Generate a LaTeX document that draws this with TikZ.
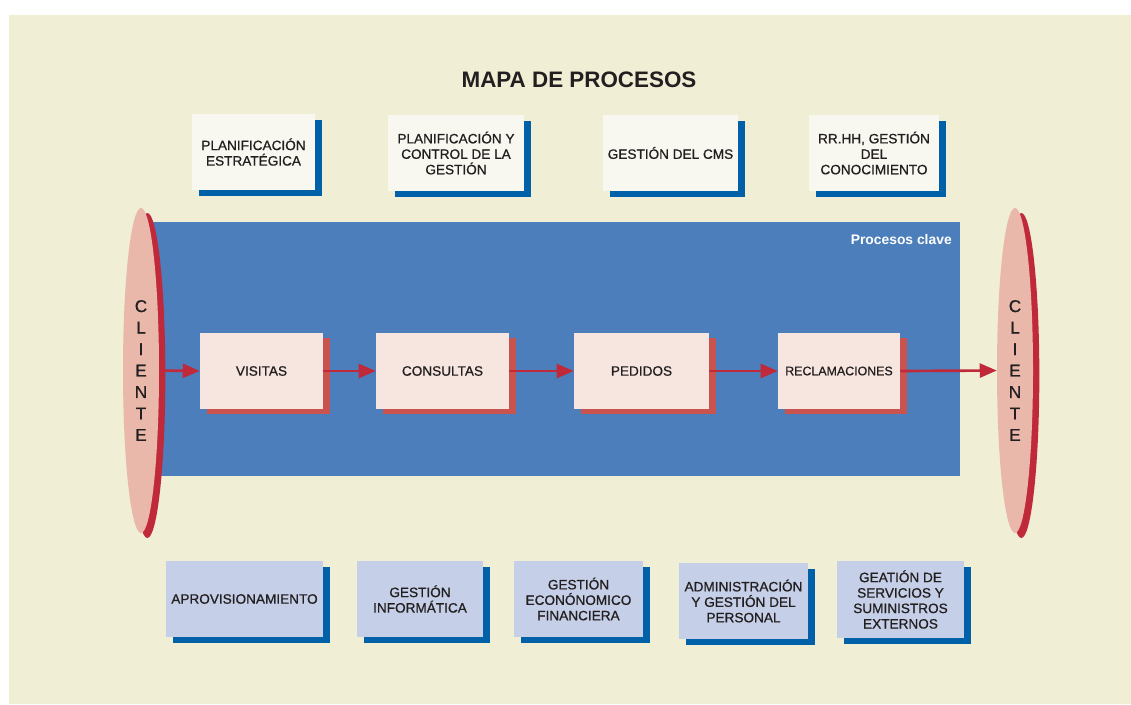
\documentclass[tikz,border=0pt]{standalone}
\usepackage{fontspec}
\setmainfont{Liberation Sans}
\newfontfamily\boxfont{Liberation Sans}[FakeBold=0.8]
\usetikzlibrary{arrows.meta,shapes.geometric,shadows}
\definecolor{cream}{HTML}{F0EED5}
\definecolor{topfill}{HTML}{F9F8F0}
\definecolor{navy}{HTML}{0060A8}
\definecolor{midblue}{HTML}{4B7EBB}
\definecolor{procfill}{HTML}{F7E6DF}
\definecolor{procshadow}{HTML}{C9544F}
\definecolor{pinkell}{HTML}{E9B8AA}
\definecolor{redell}{HTML}{C0293A}
\definecolor{botfill}{HTML}{C5CFE7}
\definecolor{txt}{HTML}{231F20}
\tikzset{
  basebox/.style={rectangle, inner sep=0pt, align=center, text=txt,
    font=\boxfont\fontsize{10.2}{11.6}\selectfont},
  topbox/.style={basebox, fill=topfill,
    drop shadow={shadow xshift=5.25pt, shadow yshift=-4.5pt, fill=navy, opacity=1}},
  botbox/.style={basebox, fill=botfill,
    drop shadow={shadow xshift=5.25pt, shadow yshift=-4.5pt, fill=navy, opacity=1}},
  procbox/.style={basebox, fill=procfill, minimum height=57pt,
    drop shadow={shadow xshift=5.25pt, shadow yshift=-3.75pt, fill=procshadow, opacity=1}},
  clientell/.style={ellipse, inner sep=0pt, fill=pinkell, minimum width=27pt,
    minimum height=243.75pt, align=center, text=txt,
    font=\boxfont\fontsize{12.8}{16.1}\selectfont,
    drop shadow={shadow xshift=4.75pt, shadow yshift=-3.75pt, fill=redell, opacity=1}},
  flow/.style={draw=redell, line width=2pt, -{Triangle[length=12.75pt, width=10.5pt]}},
}
\begin{document}
\begin{tikzpicture}[x=0.75pt, y=-0.75pt]
\useasboundingbox (0,0) rectangle (1131,704);
\fill[white] (0,0) rectangle (1131,704);
\fill[cream] (9,15) rectangle (1131,704);
\fill[midblue] (150,222) rectangle (960,476);
\node[anchor=east, text=white, font=\bfseries\fontsize{10.4}{12}\selectfont, inner sep=0pt] (pc) at (952,239.5) {Procesos clave};
\node[font=\bfseries\fontsize{16.8}{20}\selectfont, text=txt, inner sep=0pt] (title) at (579,79.5) {MAPA DE PROCESOS};
% top boxes
\node[topbox, minimum width=123*0.75pt, minimum height=57pt] (t1) at (253.5,152) {PLANIFICACIÓN\\ESTRATÉGICA};
\node[topbox, minimum width=136*0.75pt, minimum height=57pt] (t2) at (456,153) {PLANIFICACIÓN Y\\CONTROL DE LA\\GESTIÓN};
\node[topbox, minimum width=135*0.75pt, minimum height=57pt] (t3) at (670.5,153) {GESTIÓN DEL CMS};
\node[topbox, minimum width=130*0.75pt, minimum height=57pt] (t4) at (874,153) {RR.HH, GESTIÓN\\DEL\\CONOCIMIENTO};
% ellipses
\node[clientell] (cl) at (141,370.5) {C\\L\\I\\E\\N\\T\\E};
\node[clientell] (cr) at (1015,370.5) {C\\L\\I\\E\\N\\T\\E};
% process boxes
\node[procbox, minimum width=123*0.75pt] (p1) at (261.5,371) {VISITAS};
\node[procbox, minimum width=133*0.75pt] (p2) at (442.5,371) {CONSULTAS};
\node[procbox, minimum width=135*0.75pt] (p3) at (641.5,371) {PEDIDOS};
\node[procbox, minimum width=122*0.75pt, font=\boxfont\fontsize{9.3}{11}\selectfont] (p4) at (839,371) {RECLAMACIONES};
% arrows
\draw[flow] (cl.east) -- (p1.west);
\draw[flow] (p1.east) -- (p2.west);
\draw[flow] (p2.east) -- (p3.west);
\draw[flow] (p3.east) -- (p4.west);
\draw[flow] (p4.east) -- (cr.west);
% bottom boxes
\node[botbox, minimum width=157*0.75pt, minimum height=57pt] (b1) at (244.5,599) {APROVISIONAMIENTO};
\node[botbox, minimum width=126*0.75pt, minimum height=57pt] (b2) at (420,599) {GESTIÓN\\INFORMÁTICA};
\node[botbox, minimum width=129*0.75pt, minimum height=57pt] (b3) at (578.5,599) {GESTIÓN\\ECONÓNOMICO\\FINANCIERA};
\node[botbox, minimum width=129*0.75pt, minimum height=57pt] (b4) at (743.5,601) {ADMINISTRACIÓN\\Y GESTIÓN DEL\\PERSONAL};
\node[botbox, minimum width=127*0.75pt, minimum height=57.75pt] (b5) at (900.5,599.5) {GEATIÓN DE\\SERVICIOS Y\\SUMINISTROS\\EXTERNOS};
\end{tikzpicture}
\end{document}
